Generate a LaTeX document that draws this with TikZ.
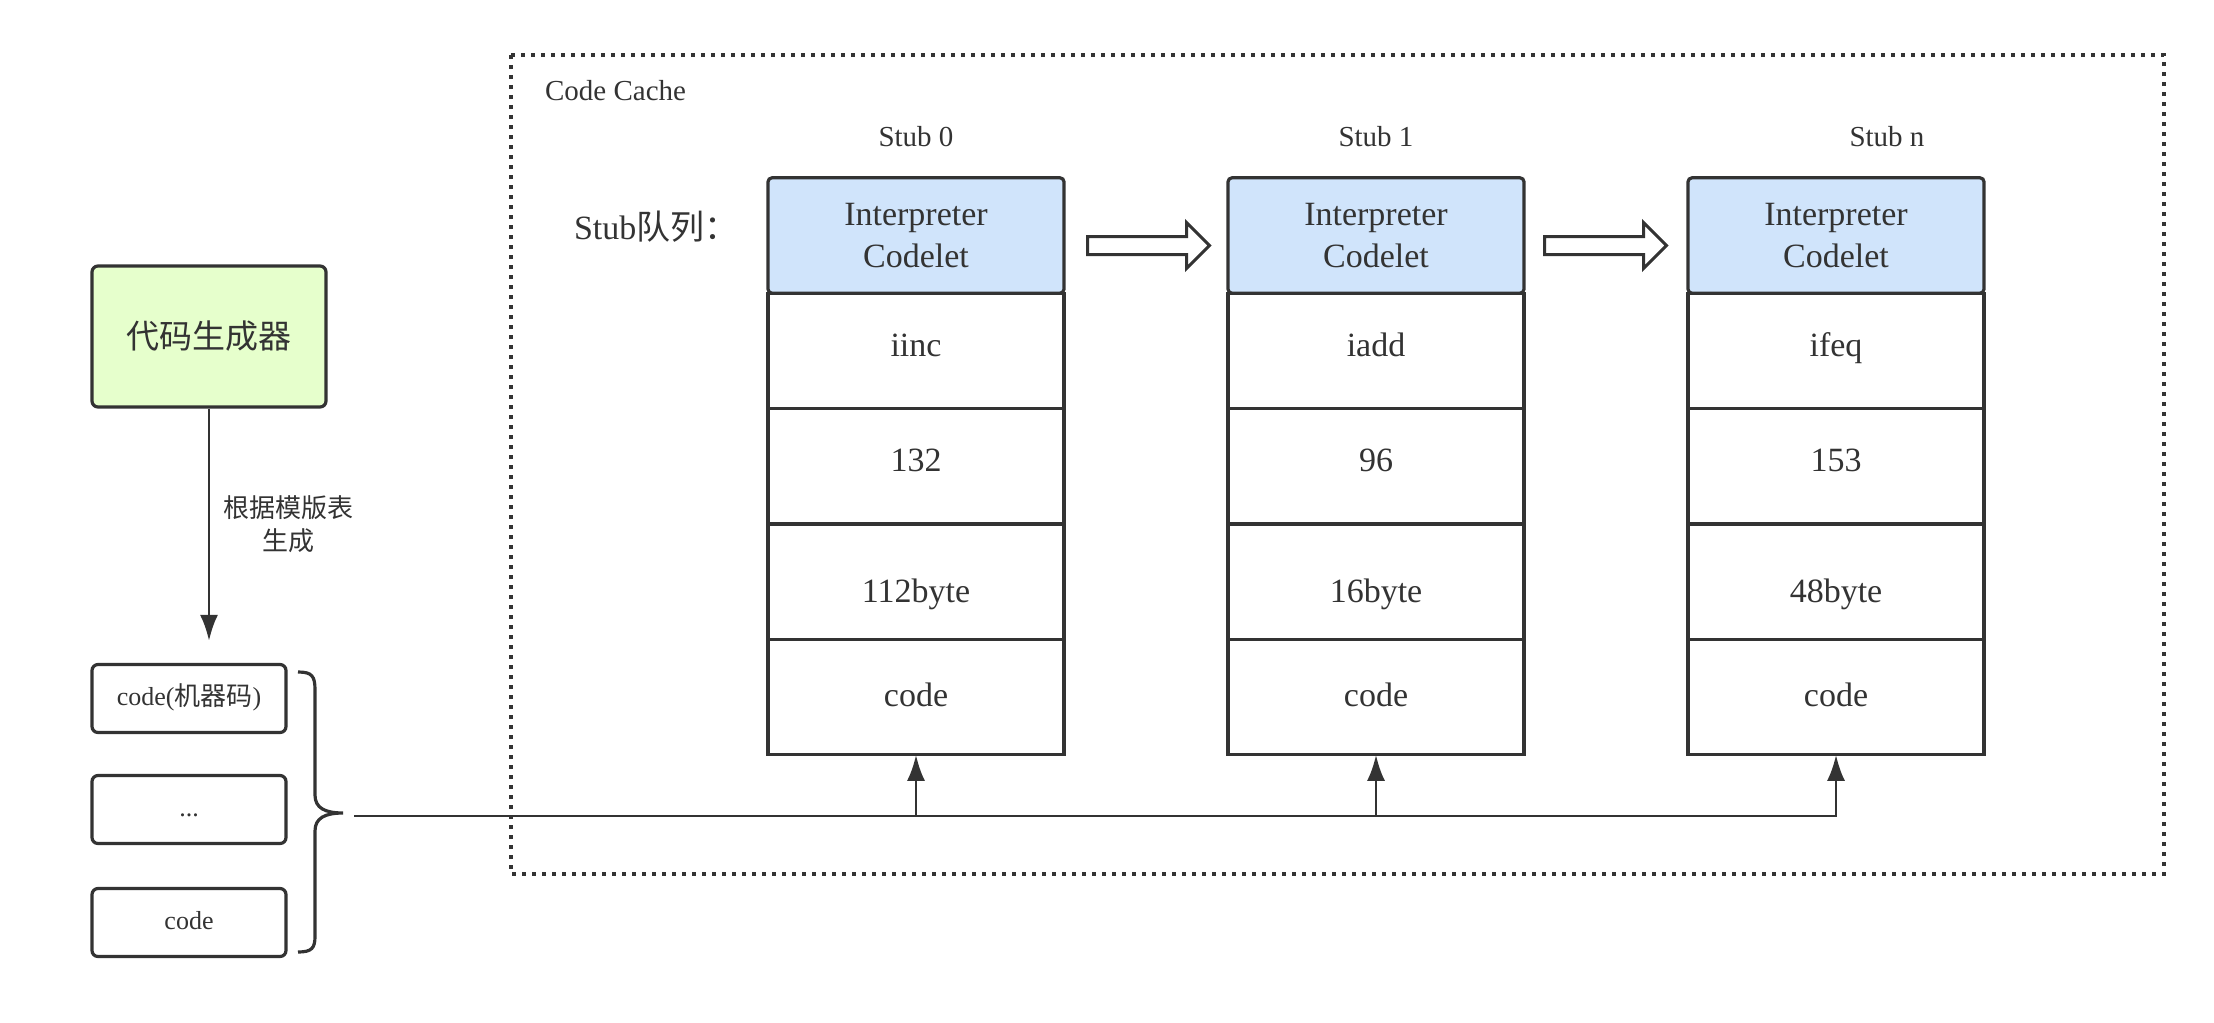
\documentclass[tikz,border=0pt]{standalone}
\usepackage{fontspec}
\setmainfont{Liberation Serif}
\newfontfamily\cjk{Noto Sans CJK SC}
\usetikzlibrary{positioning,shapes.arrows,arrows.meta}
\definecolor{linegray}{HTML}{333333}
\definecolor{headblue}{HTML}{D0E4FB}
\definecolor{gengreen}{HTML}{E6FFCC}

\tikzset{stub head/.style={
		draw=linegray, line width=1.6pt, fill=headblue, rounded corners=2pt,
		minimum width=148pt, minimum height=57.7pt, inner sep=0pt, outer sep=0pt,
		align=center, text=linegray, font=\fontsize{17}{21}\selectfont
	},
	stub cell/.style={
		stub head, fill=white, rounded corners=0pt, text height=12pt, text depth=3pt
	},
	stub label/.style={text=linegray, font=\fontsize{14.5}{17}\selectfont},
	block arrow/.style={
		single arrow, draw=linegray, line width=1.5pt, fill=white,
		minimum height=61pt, single arrow head extend=7pt,
		single arrow head indent=0pt, inner sep=0pt, inner ysep=3.75pt
	},
	gen box/.style={
		draw=linegray, line width=1.6pt, fill=gengreen, rounded corners=3pt,
		minimum width=117pt, minimum height=70.5pt, text=linegray,
		font=\cjk\fontsize{16.5}{19}\selectfont
	},
	code box/.style={
		draw=linegray, line width=1.6pt, rounded corners=3pt,
		minimum width=97pt, minimum height=34pt, text=linegray,
		text height=9pt, text depth=2.5pt, font=\fontsize{13}{15}\selectfont
	},
	link/.style={draw=linegray, line width=1.4pt, -{Latex[length=13pt,width=9pt]}}
}

\begin{document}
\begin{tikzpicture}[x=0.5pt, y=-0.5pt]
	\useasboundingbox (0,0) rectangle (2214,1022);
	% code cache frame
	\draw [linegray, line width=1.6pt, dash pattern=on 2pt off 3pt] (511,55) rectangle (2164,874);
	\node [stub label, anchor=west] (cc) at (538,91) {Code Cache};
	\node [stub label, anchor=west, font=\fontsize{17}{20}\selectfont] (queue) at (567,227) {Stub{\cjk 队列：}};

	\foreach \i/\x/\lx/\op/\num/\len in {0/916/916/iinc/132/112byte, 1/1376/1376/iadd/96/16byte, n/1836/1887/ifeq/153/48byte} {
		\node [stub label] (s\i-l) at (\lx,137) {Stub \i};
		\node [stub head] (s\i-h) at (\x,235.5) {Interpreter\\Codelet};
		\node [stub cell, below=0pt of s\i-h, text height=9pt] (s\i-op) {\op};
		\node [stub cell, below=0pt of s\i-op, text height=8pt] (s\i-num) {\num};
		\node [stub cell, below=0pt of s\i-num, text height=24pt] (s\i-len) {\len};
		\node [stub cell, below=0pt of s\i-len] (s\i-code) {code};
	}
	\node [block arrow] (a01) at (1144,245.5) {};
	\node [block arrow] (a1n) at (1601,245.5) {};

	% generator and its output
	\node [gen box] (gen) at (209,336.5) {代码生成器};
	\node [code box] (c1) at (189,698.5) {code({\cjk 机器码})};
	\node [code box] (c2) at (189,809.5) {...};
	\node [code box] (c3) at (189,922.5) {code};
	\draw [link, shorten >=11pt] (gen) -- (gen.south |- c1.north)
		node [midway, right=3pt, yshift=6pt, text=linegray, align=center, font=\cjk\fontsize{13}{16.5}\selectfont] {根据模版表\\生成};

	% brace over the code pieces
	\draw [linegray, line width=1.6pt] (298,672) .. controls (312,672) and (315,676) .. (315,690) -- (315,795)
		.. controls (315,808) and (325,813) .. (343,813) .. controls (325,813) and (315,818) .. (315,831)
		-- (315,936) .. controls (315,948) and (312,952) .. (298,952);
	\coordinate (bus) at (354,816);
	\draw [link] (bus) -| (sn-code.south);
	\draw [link] (s0-code.south |- bus) -- (s0-code.south);
	\draw [link] (s1-code.south |- bus) -- (s1-code.south);
\end{tikzpicture}
\end{document}
